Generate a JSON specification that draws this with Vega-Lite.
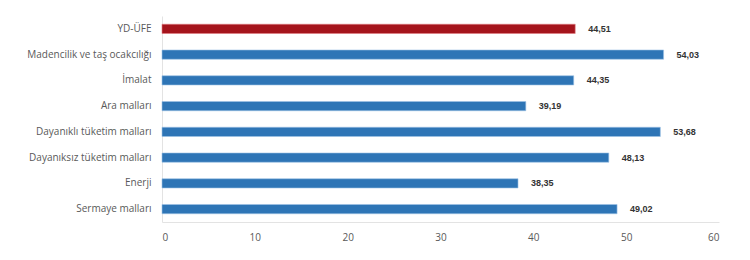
{
  "$schema": "https://vega.github.io/schema/vega-lite/v6.json",
  "autosize": {"type": "none"},
  "padding": {"left": 162, "top": 16, "right": 31, "bottom": 38},
  "width": 557,
  "height": 206,
  "background": "white",
  "config": {"view": {"stroke": null}, "font": "Open Sans"},
  "data": {"values": [
    {"kategori": "YD-ÜFE", "deger": 44.51, "etiket": "44,51", "grup": "a"},
    {"kategori": "Madencilik ve taş ocakcılığı", "deger": 54.03, "etiket": "54,03", "grup": "b"},
    {"kategori": "İmalat", "deger": 44.35, "etiket": "44,35", "grup": "b"},
    {"kategori": "Ara malları", "deger": 39.19, "etiket": "39,19", "grup": "b"},
    {"kategori": "Dayanıklı tüketim malları", "deger": 53.68, "etiket": "53,68", "grup": "b"},
    {"kategori": "Dayanıksız tüketim malları", "deger": 48.13, "etiket": "48,13", "grup": "b"},
    {"kategori": "Enerji", "deger": 38.35, "etiket": "38,35", "grup": "b"},
    {"kategori": "Sermaye malları", "deger": 49.02, "etiket": "49,02", "grup": "b"}
  ]},
  "encoding": {
    "y": {"field": "kategori", "type": "nominal", "sort": null,
      "scale": {"paddingInner": 0.64, "paddingOuter": 0.32},
      "axis": {"title": null, "ticks": false, "domainColor": "#e3e3e3", "labelColor": "#595959", "labelFontSize": 10, "labelPadding": 11, "labelFont": "Open Sans"}},
    "x": {"field": "deger", "type": "quantitative",
      "scale": {"domain": [0, 60]},
      "axis": {"title": null, "values": [0,10,20,30,40,50,60], "ticks": false, "grid": false, "domainColor": "#e3e3e3", "labelColor": "#595959", "labelFontSize": 10, "labelPadding": 10, "labelFont": "Open Sans"}}
  },
  "layer": [
    {"mark": {"type": "bar", "strokeWidth": 0.6},
     "encoding": {"color": {"field": "grup", "type": "nominal", "scale": {"domain": ["a","b"], "range": ["#a5141c", "#2e75b6"]}, "legend": null},
       "stroke": {"field": "grup", "type": "nominal", "scale": {"domain": ["a","b"], "range": ["#e07a80", "#9dc3e6"]}, "legend": null}}},
    {"mark": {"type": "text", "align": "left", "dx": 13, "fontSize": 9, "fontWeight": "bold", "color": "#333333", "font": "Liberation Sans"},
     "encoding": {"text": {"field": "etiket"}}}
  ]
}
